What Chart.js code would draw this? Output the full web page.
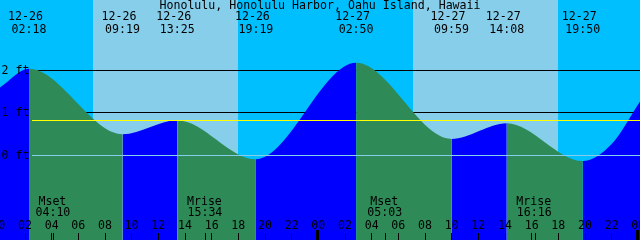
<!DOCTYPE html>
<html lang="en">
<head>
    <meta charset="UTF-8">
    <title>Honolulu tides</title>
    <script src="https://cdn.jsdelivr.net/npm/chart.js@4.4.0/dist/chart.umd.min.js"></script>
    <style>
        html, body {
            margin: 0;
            padding: 0;
            background-color: #00bfff;
        }
        #chartContainer {
            width: 640px;
            height: 240px;
        }
    </style>
</head>
<body>
    <div id="chartContainer">
        <canvas id="tideChart" width="640" height="240"></canvas>
    </div>

    <script>
        // hours counted from 12-26 00:00
        const tideHours   = [0.125, 2.3, 9.317, 13.417, 19.317, 26.833, 33.983, 38.133, 43.833, 46.0, 48.125];
        const tideHeights = [1.60, 2.04, 0.50, 0.83, -0.09, 2.18, 0.39, 0.76, -0.13, 0.27, 1.27];

        // labelled highs and lows
        const eventHours = [2.3, 9.317, 13.417, 19.317, 26.833, 33.983, 38.133, 43.833];
        const eventDates = ['12-26', '12-26', '12-26', '12-26', '12-27', '12-27', '12-27', '12-27'];
        const eventTimes = ['02:18', '09:19', '13:25', '19:19', '02:50', '09:59', '14:08', '19:50'];

        const sunriseHours = [7.1, 31.1];
        const sunsetHours  = [17.97, 41.97];

        const moonHours  = [4.167, 15.567, 29.05, 40.267];
        const moonKinds  = ['Mset', 'Mrise', 'Mset', 'Mrise'];
        const moonTimes  = ['04:10', '15:34', '05:03', '16:16'];

        const hourTicks  = [0, 2, 4, 6, 8, 10, 12, 14, 16, 18, 20, 22, 24, 26, 28, 30, 32, 34, 36, 38, 40, 42, 44, 46, 48];
        const hourLabels = ['00', '02', '04', '06', '08', '10', '12', '14', '16', '18', '20', '22',
                            '00', '02', '04', '06', '08', '10', '12', '14', '16', '18', '20', '22', '00'];

        const depthLevels = [2, 1, 0];
        const depthLabels = ['2 ft', '1 ft', '0 ft'];
        const meanSeaLevel = 0.82;

        const title = 'Honolulu, Honolulu Harbor, Oahu Island, Hawaii';

        const dayColor = '#87ceeb';
        const nightColor = '#00bfff';
        const risingColor = '#0000ff';
        const fallingColor = '#2e8b57';
        const font = '11.6px "DejaVu Sans Mono", monospace';

        function hline(ctx, yPix, x0, x1) {
            const yy = Math.floor(yPix) + 0.5;
            ctx.beginPath();
            ctx.moveTo(x0, yy);
            ctx.lineTo(x1, yy);
            ctx.stroke();
        }

        function vline(ctx, xPix, y0, y1) {
            const xx = Math.round(xPix - 0.5) + 0.5;
            ctx.beginPath();
            ctx.moveTo(xx, y0);
            ctx.lineTo(xx, y1);
            ctx.stroke();
        }

        const tideDecor = {
            id: 'tideDecor',
            beforeDraw(chart) {
                const { ctx, scales: { x, y } } = chart;
                ctx.save();
                ctx.fillStyle = nightColor;
                ctx.fillRect(0, 0, chart.width, chart.height);
                ctx.fillStyle = dayColor;
                sunriseHours.forEach((t, i) => {
                    const x0 = Math.round(x.getPixelForValue(t));
                    const x1 = Math.round(x.getPixelForValue(sunsetHours[i]));
                    ctx.fillRect(x0, 0, x1 - x0, chart.height);
                });
                // 1 ft and 2 ft lines sit behind the water
                ctx.strokeStyle = '#000';
                ctx.lineWidth = 1;
                depthLevels.filter(d => d !== 0).forEach(d => hline(ctx, y.getPixelForValue(d) - 0.3, 32, chart.width));
                ctx.restore();
            },
            afterDatasetsDraw(chart) {
                const { ctx, scales: { x, y } } = chart;
                ctx.save();
                ctx.lineWidth = 1;
                ctx.strokeStyle = '#87ceeb';
                hline(ctx, y.getPixelForValue(0), 32, chart.width);
                ctx.strokeStyle = '#ffff00';
                hline(ctx, y.getPixelForValue(meanSeaLevel), 32, chart.width);

                ctx.fillStyle = '#000';
                ctx.strokeStyle = '#000';
                ctx.font = font;
                ctx.textBaseline = 'middle';

                ctx.textAlign = 'left';
                depthLevels.forEach((d, i) => ctx.fillText(depthLabels[i], 1.5, y.getPixelForValue(d)));

                ctx.textAlign = 'center';
                ctx.fillText(title, 320, 6);

                eventHours.forEach((t, i) => {
                    const ex = x.getPixelForValue(t);
                    ctx.fillText(eventDates[i], ex - 3.5, 17);
                    ctx.fillText(eventTimes[i], ex, 29.5);
                });

                moonHours.forEach((t, i) => {
                    const mx = x.getPixelForValue(t);
                    ctx.fillText(moonKinds[i], mx - 1.5, 202);
                    ctx.fillText(moonTimes[i], mx - 1, 213);
                    vline(ctx, mx, 233, 240);
                });

                hourTicks.forEach((t, i) => {
                    const tx = x.getPixelForValue(t);
                    ctx.fillText(hourLabels[i], tx, 225.5);
                    if (t % 24 === 0) {
                        ctx.fillRect(Math.round(tx) - 2, 230, 3, 10);
                    } else {
                        vline(ctx, tx, 233, 240);
                    }
                });
                ctx.restore();
            }
        };

        const ctx = document.getElementById('tideChart').getContext('2d');
        new Chart(ctx, {
            type: 'line',
            data: {
                datasets: [{
                    data: tideHours.map((h, i) => ({ x: h, y: tideHeights[i] })),
                    borderColor: 'rgba(0,0,0,0)',
                    borderWidth: 0,
                    pointRadius: 0,
                    cubicInterpolationMode: 'monotone',
                    fill: 'start',
                    backgroundColor: risingColor,
                    segment: {
                        backgroundColor: c => c.p1.parsed.y >= c.p0.parsed.y ? risingColor : fallingColor
                    }
                }]
            },
            options: {
                responsive: false,
                devicePixelRatio: 1,
                animation: false,
                layout: { padding: 0 },
                plugins: {
                    legend: { display: false },
                    tooltip: { enabled: false }
                },
                scales: {
                    x: { type: 'linear', min: 0.125, max: 48.125, display: false },
                    y: { min: -1.988, max: 3.659, display: false }
                }
            },
            plugins: [tideDecor]
        });
    </script>
</body>
</html>
